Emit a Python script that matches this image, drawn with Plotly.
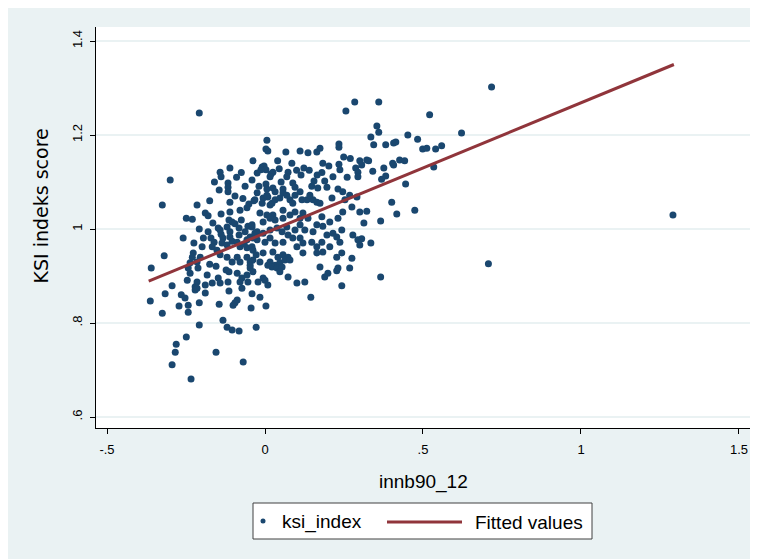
import plotly.graph_objects as go

# ---------------- data ----------------
innb90_12 = [
    -0.208, -0.300, -0.142, -0.139, -0.111, -0.117, -0.117, -0.145, -0.063, -0.041, -0.038,
    0.284, 0.256, 0.006, 0.003, 0.009, 0.066, 0.111, 0.136, 0.164, 0.174, 0.234, 0.234, 0.249,
    -0.025, -0.009, -0.003, 0.003, -0.013, 0.025, 0.019, 0.073, 0.069, 0.051, 0.016, 0.088,
    0.114, 0.123, 0.183, 0.202, 0.234, 0.237, 0.215, 0.189, 0.155, 0.287, 0.294, 0.300, 0.306, 0.294,
    -0.019, 0.006, 0.025, 0.057, 0.095, 0.148, 0.167, 0.196, 0.231, 0.003,
    0.717, 0.360, 0.521, 0.354, 0.360, 0.335, 0.344, 0.382, 0.407, 0.414, 0.452, 0.483, 0.622,
    0.499, 0.512, 0.540, 0.559, 0.322, 0.328, 0.404, 0.407, 0.426, 0.442, 0.341, 0.376, 0.382,
    0.369, 0.534, 0.445,
    -0.325, -0.117, -0.111, -0.051, -0.057, -0.035, -0.215, -0.189, -0.180, -0.139, -0.111, -0.079,
    -0.249, -0.230, -0.114, -0.104, -0.208, -0.148, -0.142, -0.120, -0.111, -0.082, -0.054, -0.041,
    -0.259, -0.171, -0.161, -0.139, -0.133, -0.136, -0.111, -0.104, -0.120, -0.082, -0.088, -0.079,
    -0.057, -0.047, -0.038, -0.057, -0.041, -0.199, -0.167, -0.152, -0.142, -0.227, -0.230, -0.319,
    -0.360, -0.237, -0.243, -0.237, -0.215, -0.212, -0.120, -0.104, -0.088, -0.079, -0.057, -0.047,
    -0.038, -0.123, -0.114, -0.088, -0.073, -0.057, -0.047, -0.038, -0.183, -0.167, -0.189, -0.148,
    -0.142, -0.246, -0.215, -0.221, -0.294, -0.117, -0.079, -0.054,
    0.111, 0.246, 0.268,
    -0.032, -0.006, 0.009, 0.022, 0.032, 0.047, 0.057, 0.079, 0.088, 0.117, 0.133, 0.152, 0.164, 0.174,
    -0.016, 0.006, 0.025, 0.032, 0.057, 0.079, 0.095, 0.120, 0.136,
    0.180, 0.205, 0.231, 0.246, 0.275, 0.300, 0.164, 0.183,
    -0.041, -0.025, -0.006, 0.016, 0.038, 0.054, 0.073, 0.095, 0.126, 0.111,
    0.215, 0.227, 0.243, 0.278, 0.294, 0.300,
    -0.025, 0.000, 0.016, 0.032, 0.057, 0.088, 0.101, 0.120, 0.148, 0.164, 0.180, 0.183,
    -0.038, -0.006, 0.025, 0.041, 0.057, 0.073, 0.016, 0.032, 0.047, 0.063, 0.079,
    -0.016, -0.047, 0.120, 0.164, 0.243, 0.275, 0.174, 0.199, 0.189, 0.231, 0.227,
    -0.006, 0.000, 0.073, 0.101, 0.126, 0.243, 0.009, -0.022,
    0.401, 0.322, 0.417, 0.474, 0.313, 0.366, 0.306, 0.335, 0.707, 0.366, 1.291,
    -0.363, -0.316, -0.325, -0.265, -0.253, -0.272, -0.243, -0.243, -0.221, -0.215, -0.189, -0.208,
    -0.114, -0.145, -0.073, -0.041, -0.088, -0.095, -0.101, -0.044, -0.133, -0.120, -0.104, -0.082,
    -0.208, -0.249, -0.281, -0.284, -0.294, -0.155, -0.069, -0.234, -0.028,
    -0.016, 0.003, 0.145,
    # points inside the densest overlapping clusters
    0.022, 0.038, 0.054, 0.009, 0.047,
    -0.025, 0.006, 0.032, -0.009, 0.016, 0.069, 0.095, 0.142, 0.212, 0.253, 0.291,
    -0.006, 0.016, 0.057, 0.111, 0.069, 0.111, 0.152, 0.196, 0.237, 0.205, 0.227, 0.268,
    -0.075, -0.063, -0.032, -0.066, -0.028, -0.095, -0.165, -0.180, -0.195, -0.225, -0.155, -0.175, -0.205,
    0.040, 0.085, 0.100, 0.140, 0.165, 0.260, 0.270, 0.045, 0.180,
    -0.090, -0.075, -0.160, -0.175, -0.095, -0.070,
]
ksi_index = [
    1.247, 1.104, 1.121, 1.111, 1.130, 1.098, 1.089, 1.083, 1.091, 1.104, 1.145,
    1.270, 1.251, 1.189, 1.170, 1.166, 1.164, 1.166, 1.162, 1.164, 1.172, 1.181, 1.174, 1.153,
    1.119, 1.132, 1.134, 1.126, 1.126, 1.121, 1.117, 1.121, 1.111, 1.100, 1.111, 1.098,
    1.115, 1.130, 1.140, 1.134, 1.138, 1.126, 1.111, 1.102, 1.102, 1.130, 1.121, 1.145, 1.136, 1.111,
    1.091, 1.085, 1.087, 1.085, 1.089, 1.091, 1.087, 1.089, 1.085, 1.096,
    1.302, 1.270, 1.243, 1.219, 1.206, 1.196, 1.179, 1.179, 1.183, 1.185, 1.200, 1.191, 1.204,
    1.170, 1.172, 1.170, 1.177, 1.147, 1.145, 1.140, 1.136, 1.147, 1.145, 1.123, 1.130, 1.113,
    1.106, 1.132, 1.096,
    1.051, 1.079, 1.057, 1.053, 1.045, 1.060, 1.051, 1.034, 1.028, 1.032, 1.036, 1.040,
    1.023, 1.021, 1.019, 1.015, 1.000, 1.002, 0.998, 1.004, 0.994, 1.002, 1.006, 1.004,
    0.981, 0.981, 0.972, 0.989, 0.981, 0.970, 0.983, 0.974, 0.966, 0.987, 0.972, 0.962,
    0.977, 0.983, 0.981, 0.960, 0.962, 0.962, 0.962, 0.955, 0.945, 0.949, 0.940, 0.943,
    0.917, 0.928, 0.917, 0.906, 0.930, 0.917, 0.940, 0.930, 0.940, 0.930, 0.940, 0.930,
    0.934, 0.913, 0.909, 0.906, 0.896, 0.902, 0.917, 0.909, 0.902, 0.885, 0.881, 0.896,
    0.885, 0.891, 0.887, 0.877, 0.879, 0.887, 0.887, 0.887,
    1.079, 1.079, 1.072,
    1.062, 1.066, 1.068, 1.055, 1.062, 1.066, 1.077, 1.062, 1.055, 1.062, 1.062, 1.062, 1.057, 1.055,
    1.034, 1.030, 1.030, 1.019, 1.040, 1.030, 1.036, 1.034, 1.023,
    1.026, 1.015, 1.023, 1.036, 1.047, 1.036, 1.009, 1.006,
    1.009, 0.994, 0.991, 0.998, 1.002, 0.994, 0.987, 0.998, 0.998, 0.981,
    0.991, 0.983, 0.998, 0.987, 0.977, 0.966,
    0.977, 0.972, 0.981, 0.970, 0.972, 0.981, 0.962, 0.970, 0.972, 0.962, 0.972, 0.951,
    0.955, 0.949, 0.951, 0.940, 0.945, 0.940, 0.930, 0.923, 0.928, 0.934, 0.934,
    0.930, 0.923, 0.949, 0.949, 0.949, 0.938, 0.919, 0.906, 0.898, 0.917, 0.911,
    0.896, 0.891, 0.898, 0.885, 0.887, 0.879, 0.881, 0.887,
    1.057, 1.038, 1.032, 1.040, 1.013, 1.017, 0.979, 0.970, 0.926, 0.898, 1.030,
    0.847, 0.862, 0.821, 0.860, 0.853, 0.836, 0.838, 0.823, 0.870, 0.874, 0.864, 0.843,
    0.868, 0.840, 0.874, 0.862, 0.849, 0.843, 0.838, 0.832, 0.806, 0.791, 0.785, 0.783,
    0.796, 0.770, 0.755, 0.738, 0.711, 0.738, 0.717, 0.681, 0.791,
    0.855, 0.836, 0.855,
    # points inside the densest overlapping clusters
    0.919, 0.917, 0.919, 0.923, 0.909,
    1.077, 1.072, 1.079, 1.055, 1.051, 1.072, 1.072, 1.072, 1.066, 1.062, 1.068,
    1.015, 1.023, 1.023, 1.023, 1.004, 1.009, 0.994, 0.987, 0.972, 0.962, 0.940, 0.917,
    1.019, 0.994, 0.991, 0.968, 0.945, 1.011, 1.013, 0.994, 0.981, 0.970, 0.921, 0.925, 0.940,
    1.145, 1.140, 1.125, 1.125, 1.115, 1.110, 1.150, 1.128, 1.120,
    1.110, 1.120, 1.100, 1.060, 1.070, 1.065,
]
fit_x = [-0.368, 1.294]
fit_y = [0.889, 1.350]

x_tickvals = [-0.5, 0, 0.5, 1, 1.5]
x_ticktext = ["-.5", "0", ".5", "1", "1.5"]
y_tickvals = [0.6, 0.8, 1.0, 1.2, 1.4]
y_ticktext = [".6", ".8", "1", "1.2", "1.4"]

# ---------------- figure ----------------
W, H = 758, 559
L, R, T, B = 88, 15, 19, 139
pw, ph = W - L - R, H - T - B

def px_x(p):
    return (p - L) / pw

def px_y(p):
    return (H - B - p) / ph

BG = "#eaf2f3"
NAVY = "#1a476f"
MAROON = "#90353b"
FONT = "Liberation Sans, Arial, Helvetica, sans-serif"

fig = go.Figure()
fig.add_trace(go.Scatter(
    x=innb90_12, y=ksi_index, mode="markers", name="ksi_index",
    marker=dict(color=NAVY, size=7, line=dict(width=0)),
))
fig.add_trace(go.Scatter(
    x=fit_x, y=fit_y, mode="lines", name="Fitted values",
    line=dict(color=MAROON, width=3),
))

# legend drawn Stata-style (box, key symbols, labels)
shapes = [
    dict(type="rect", xref="paper", yref="paper",
         x0=px_x(245), x1=px_x(584), y0=px_y(531), y1=px_y(495),
         fillcolor="white", line=dict(color="#404040", width=1)),
    dict(type="circle", xref="paper", yref="paper",
         x0=px_x(252.5), x1=px_x(257.5), y0=px_y(515.5), y1=px_y(510.5),
         fillcolor=NAVY, line_width=0),
    dict(type="line", xref="paper", yref="paper",
         x0=px_x(379), x1=px_x(454), y0=px_y(514), y1=px_y(514),
         line=dict(color=MAROON, width=3)),
]
annotations = [
    dict(text="ksi_index", xref="paper", yref="paper", x=px_x(272), y=px_y(514),
         xanchor="left", yanchor="middle", showarrow=False,
         font=dict(size=19, family=FONT, color="black")),
    dict(text="Fitted values", xref="paper", yref="paper", x=px_x(465), y=px_y(514),
         xanchor="left", yanchor="middle", showarrow=False,
         font=dict(size=19, family=FONT, color="black")),
    dict(text="innb90_12", xref="paper", yref="paper", x=px_x(415), y=px_y(474),
         xanchor="center", yanchor="middle", showarrow=False,
         font=dict(size=19, family=FONT, color="black")),
    dict(text="KSI indeks score", xref="paper", yref="paper", x=px_x(32), y=px_y(198.5),
         xanchor="center", yanchor="middle", showarrow=False, textangle=-90,
         font=dict(size=19, family="DejaVu Sans, Liberation Sans, Arial, sans-serif", color="black")),
]

fig.update_layout(
    width=W, height=H,
    margin=dict(l=L, r=R, t=T, b=B, pad=0, autoexpand=False),
    paper_bgcolor=BG, plot_bgcolor="white",
    font=dict(family=FONT, color="black"),
    shapes=shapes, annotations=annotations,
    showlegend=False,
    xaxis=dict(
        range=[-0.5348, 1.538], tickvals=x_tickvals, ticktext=x_ticktext, automargin=False,
        showgrid=False, zeroline=False, showline=True, linecolor="black", linewidth=1,
        ticks="outside", ticklen=5, tickcolor="black", tickwidth=1,
        tickfont=dict(size=13, family=FONT, color="black"), ticklabelstandoff=4,
    ),
    yaxis=dict(
        range=[0.5766, 1.4298], tickvals=y_tickvals, ticktext=y_ticktext, tickangle=-90,
        automargin=False,
        showgrid=True, gridcolor=BG, gridwidth=2, zeroline=False,
        showline=True, linecolor="black", linewidth=1,
        ticks="outside", ticklen=5, tickcolor="black", tickwidth=1,
        tickfont=dict(size=13, family=FONT, color="black"), ticklabelstandoff=3,
    ),
)

fig.write_html("out.html")
